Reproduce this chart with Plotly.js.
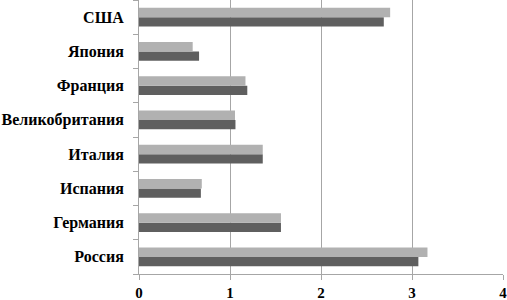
<!DOCTYPE html>
<html><head><meta charset="utf-8">
<script src="https://cdn.plot.ly/plotly-3.0.1.min.js"></script>
<style>html,body{margin:0;padding:0;background:#fff}#c{width:507px;height:300px}</style>
</head><body><div id="c"></div>
<script>
const categories = ["Россия","Германия","Испания","Италия","Великобритания","Франция","Япония","США"];
const seriesDark = [3.07,1.56,0.68,1.36,1.06,1.19,0.66,2.69];
const seriesLight = [3.17,1.56,0.69,1.36,1.055,1.17,0.59,2.76];
const xTicks = [0,1,2,3,4];

const FONT = "Liberation Serif";
const traces = [
  {type:"bar", orientation:"h", y:categories, x:seriesDark, marker:{color:"#5f5f5f"}, hoverinfo:"none"},
  {type:"bar", orientation:"h", y:categories, x:seriesLight, marker:{color:"#b1b1b1"}, hoverinfo:"none"}
];
const layout = {
  width:507, height:300,
  margin:{l:139, r:4, t:0, b:26},
  paper_bgcolor:"#fff", plot_bgcolor:"#fff",
  showlegend:false, barmode:"group", bargap:0.45, bargroupgap:0,
  font:{family:FONT, color:"#000", size:16},
  xaxis:{range:[0,4], tickvals:xTicks, ticktext:xTicks.map(String), showgrid:true, gridcolor:"#a6a6a6", gridwidth:1,
    zeroline:false, showline:true, linecolor:"#a6a6a6", linewidth:1, ticks:"outside", ticklen:5, tickcolor:"#a6a6a6",
    ticklabeloverflow:"allow", ticklabelstandoff:0,
    tickfont:{family:FONT, size:15, weight:"bold", color:"#000"}},
  yaxis:{type:"category", showgrid:false, zeroline:false, showline:true, linecolor:"#a6a6a6", linewidth:1,
    ticks:"outside", ticklen:5, tickcolor:"#a6a6a6", tickson:"boundaries",
    tickfont:{family:FONT, size:16, weight:"bold", color:"#000"}, ticklabelstandoff:11}
};
Plotly.newPlot("c", traces, layout, {staticPlot:true});
</script></body></html>
